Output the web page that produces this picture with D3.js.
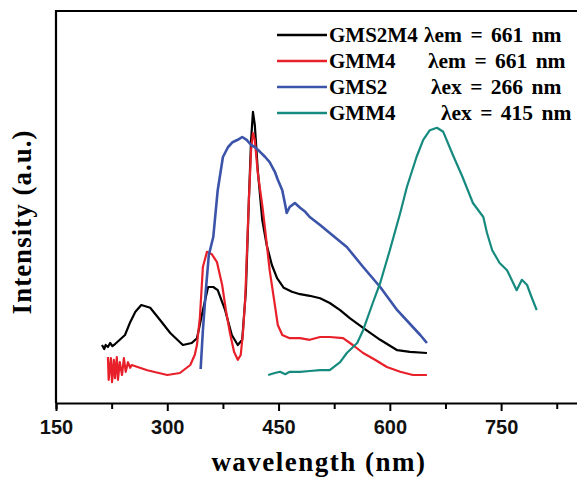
<!DOCTYPE html>
<html>
<head>
<meta charset="utf-8">
<script src="https://cdn.jsdelivr.net/npm/d3@7"></script>
<style>
  body { margin: 0; background: #fff; }
  svg { display: block; }
</style>
</head>
<body>
<div id="chart"></div>
<script>
// spectra: [wavelength nm, intensity a.u.]
const gms2m4Exc = [
  [212,14.5],[215,13.5],[217,14.5],[220,14],[223,15],[226,14.2],[230,14.8],[236,15.8],[243,17],
  [250,20.2],[257,22.8],[265,24.5],[277,23.8],[290,20.8],[304,17.5],[321,14.5],[333,15],
  [340,16.2],[348,23.2],[355,29],[362,29],[368,28.2],[378,23.2],[387,17],[395,14.5],
  [401,15.8],[406,28.2],[410,50.8],[413,65.8],[415.5,72.8],[418,69.5],[422,58.2],[428,45.8],
  [434,39.5],[441,34.5],[448,31.2],[457,28.8],[468,27.8],[479,27.2],[492,26.8],[506,26.2],
  [519,25],[533,23.2],[546,21.2],[564,18.8],[587,15.8],[610,13.2],[627,12.8],[650,12.5]
];
const gmm4Exc = [
  [220,11.5],[221,5.8],[224,11.2],[225.5,5.2],[228,10.8],[229.5,6.2],[232,11.5],[233.5,5.8],
  [236,10.2],[239,7],[241.5,11.2],[244,7.8],[247,10.2],[250,8.8],[252,9.5],[273,8.2],
  [300,7],[317,7.5],[331,9.5],[337,12],[340,14.5],[344,21.5],[348,34],[353.5,37.8],
  [360,37.2],[367,35.2],[374,29.5],[379,23.2],[384.5,17.5],[390,12.8],[395,10.8],[399,12],
  [402,17.5],[405,25.8],[407,35.8],[410,50.8],[413,63.2],[415.5,67.5],[418,65.8],[422,57.5],
  [428,49.5],[432,43.2],[438,33.2],[444,25.8],[449,19.5],[455,17],[465,16.2],[479,16.2],
  [492,15.8],[506,16.5],[519,16.5],[537,16.2],[550,14.5],[564,12.5],[580,10.8],[596,9],
  [614,7.8],[631,7],[650,7]
];
const gms2Em = [
  [345,8.5],[348,18.2],[352,28.2],[356,37],[362,41.5],[368,53.2],[375,61.5],[382,64],
  [388,65.2],[395,65.8],[401,66.5],[407,65.8],[413,64.5],[418,64],[425,62.8],[432,61.5],
  [438,60.2],[445,57.8],[449,55.8],[455,53.2],[459,49.5],[461,47.5],[465,49],[472,50],
  [479,48.8],[486,47.8],[492,46.5],[506,44.5],[519,42.5],[542,39],[564,34],[587,29],
  [610,23.2],[631,19],[641,17],[650,15]
];
const gmm4Em = [
  [436,7],[445,7.5],[452,7.8],[459,7.2],[465,7.8],[479,7.8],[492,8],[506,8.2],[519,8.2],
  [533,10.2],[542,12.5],[556,15],[564,18.2],[577,25],[587,30],[600,38.2],[614,47.5],
  [623,54],[636,61.5],[645,65.8],[654,68.2],[663.5,68.8],[672,67.8],[685,62],[698,56.5],
  [712,50],[726,46.5],[731,42.5],[738,38.2],[748,35],[758,33.2],[771,28.2],[778,30.8],
  [785,29.5],[791,26.5],[798,23.2]
];

const seriesNames = ["GMS2M4", "GMM4", "GMS2", "GMM4"];
const seriesNotes = ["\u03bbem = 661 nm", "\u03bbem = 661 nm", "\u03bbex = 266 nm", "\u03bbex = 415 nm"];
const seriesData = [gms2m4Exc, gmm4Exc, gms2Em, gmm4Em];
const seriesColors = ["#000000", "#e8202a", "#3b53a8", "#168a7f"];
const xTicks = [150, 300, 450, 600, 750];

const width = 577, height = 477;
const margin = { left: 56, top: 11, bottom: 74 };

const svg = d3.select("#chart")
  .append("svg")
  .attr("width", width)
  .attr("height", height);

const xScale = d3.scaleLinear().domain([150, 855]).range([margin.left, 579]);
const yScale = d3.scaleLinear().domain([0, 98]).range([height - margin.bottom, margin.top]);
const y0 = yScale(0);

// curves
const line = d3.line()
  .x(d => xScale(d[0]))
  .y(d => yScale(d[1]));

seriesData.forEach((s, i) => {
  svg.append("path")
    .datum(s)
    .attr("fill", "none")
    .attr("stroke", seriesColors[i])
    .attr("stroke-width", i === 2 ? 2.6 : 2.2)
    .attr("stroke-linejoin", "round")
    .attr("d", line);
});

// frame (left, top, bottom)
svg.append("path")
  .attr("d", `M${xScale(150)},${y0}V${yScale(98)}H${width}`)
  .attr("fill", "none")
  .attr("stroke", "#000")
  .attr("stroke-width", 2.2);

const xAxis = d3.axisBottom(xScale)
  .tickValues(d3.range(150, 856, 75))
  .tickSize(6)
  .tickFormat(d => xTicks.includes(d) ? d : "");

const gx = svg.append("g")
  .attr("transform", `translate(0,${y0})`)
  .call(xAxis);
gx.select(".domain").attr("stroke-width", 2.2);
gx.selectAll(".tick line")
  .attr("stroke-width", 2)
  .attr("y2", d => xTicks.includes(d) ? 8 : 6);
gx.selectAll(".tick text")
  .attr("y", 17)
  .attr("fill", "#111")
  .style("font-family", "'Liberation Sans', Arial, sans-serif")
  .style("font-weight", "bold")
  .style("font-size", "20px");

// axis titles
svg.append("text")
  .attr("x", 319)
  .attr("y", 471)
  .attr("text-anchor", "middle")
  .style("font-family", "'Liberation Serif', 'Times New Roman', serif")
  .style("font-weight", "bold")
  .style("font-size", "27px")
  .style("letter-spacing", "1.5px")
  .text("wavelength (nm)");

svg.append("text")
  .attr("transform", "translate(31,222) rotate(-90)")
  .attr("text-anchor", "middle")
  .style("font-family", "'Liberation Serif', 'Times New Roman', serif")
  .style("font-weight", "bold")
  .style("font-size", "27px")
  .style("letter-spacing", "1px")
  .text("Intensity (a.u.)");

// legend
const noteX = [424, 428, 431, 441];
seriesNames.forEach((name, i) => {
  const ly = 35 + i * 26;
  svg.append("line")
    .attr("x1", 277).attr("x2", 327)
    .attr("y1", ly).attr("y2", ly)
    .attr("stroke", seriesColors[i])
    .attr("stroke-width", 2.4);
  svg.append("text")
    .attr("x", 329).attr("y", ly + 7)
    .style("font-family", "'Liberation Serif', 'Times New Roman', serif")
    .style("font-weight", "bold")
    .style("font-size", "21px")
    .text(name);
  svg.append("text")
    .attr("x", noteX[i]).attr("y", ly + 7)
    .style("font-family", "'Liberation Serif', 'Times New Roman', serif")
    .style("font-weight", "bold")
    .style("font-size", "21.5px")
    .style("word-spacing", "3px")
    .text(seriesNotes[i]);
});
</script>
</body>
</html>
